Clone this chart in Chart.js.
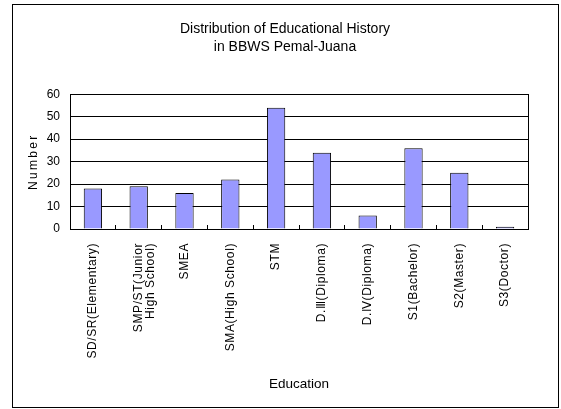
<!DOCTYPE html>
<html>
<head>
<meta charset="utf-8">
<script src="https://cdn.jsdelivr.net/npm/chart.js@4"></script>
<style>
  html, body { margin: 0; padding: 0; background: #ffffff; }
  canvas { display: block; }
</style>
</head>
<body>
<canvas id="chart" width="561" height="409"></canvas>
<script>
// Education levels (x axis categories)
const categories = [
  'SD/SR(Elementary)',
  ['SMP/ST(Junior', 'High School)'],
  'SMEA',
  'SMA(High School)',
  'STM',
  'D.\u2162(Diploma)',
  'D.\u2163(Diploma)',
  'S1(Bachelor)',
  'S2(Master)',
  'S3(Doctor)'
];

// Number of people per education level
const counts = [18, 19, 16, 22, 54, 34, 6, 36, 25, 1];

// Y axis range and tick step
const yMin = 0;
const yMax = 60;
const yStep = 10;

const titleLines = ['Distribution of Educational History', 'in BBWS Pemal-Juana'];

const plainFont = '"Liberation Sans", Arial, sans-serif';

// Wrap a scale drawing method so its text is drawn with extra letter spacing
function withSpacing(scale, method, spacing) {
  const key = '__spaced_' + method;
  if (scale[key]) return;
  const original = scale[method];
  scale[method] = function (...args) {
    const ctx = this.ctx;
    ctx.save();
    ctx.letterSpacing = spacing;
    original.apply(this, args);
    ctx.restore();
  };
  scale[key] = true;
}

// Frame around the whole figure and box around the plot area
const framePlugin = {
  id: 'frame',
  beforeDraw(chart) {
    withSpacing(chart.scales.x, 'drawLabels', '0.6px');
    withSpacing(chart.scales.y, 'drawTitle', '2.3px');
    const ctx = chart.ctx;
    ctx.save();
    ctx.fillStyle = '#ffffff';
    ctx.fillRect(0, 0, chart.width, chart.height);
    ctx.restore();
  },
  afterDraw(chart) {
    const ctx = chart.ctx;
    const a = chart.chartArea;
    const l = Math.round(a.left) + 0.5;
    const r = Math.round(a.right) + 0.5;
    const t = Math.round(a.top) + 0.5;
    const b = Math.round(a.bottom) + 0.5;
    ctx.save();
    ctx.strokeStyle = '#000000';
    ctx.lineWidth = 1;
    ctx.strokeRect(l, t, r - l, b - t);
    ctx.strokeRect(12.5, 4.5, 546, 403);
    ctx.restore();
  }
};

new Chart(document.getElementById('chart'), {
  type: 'bar',
  data: {
    labels: categories,
    datasets: [{
      label: 'Number',
      data: counts,
      backgroundColor: '#9999ff',
      borderColor: '#000000',
      borderWidth: 1,
      barPercentage: 0.4,
      categoryPercentage: 1.0
    }]
  },
  options: {
    responsive: false,
    animation: false,
    devicePixelRatio: 1,
    layout: { padding: { left: 42, right: 33, top: 0, bottom: 5 } },
    plugins: {
      legend: { display: false },
      tooltip: { enabled: false },
      title: {
        display: true,
        text: titleLines,
        color: '#000000',
        font: { family: plainFont, size: 14, weight: 'normal', lineHeight: 1.31 },
        padding: { top: 20, bottom: 37.6 }
      }
    },
    scales: {
      x: {
        afterFit(scale) { scale.height = 175; },
        grid: {
          display: true,
          drawOnChartArea: false,
          drawTicks: true,
          tickLength: -4,
          color: '#000000',
          lineWidth: 1
        },
        border: { display: true, color: '#000000', width: 1 },
        ticks: {
          autoSkip: false,
          minRotation: 90,
          maxRotation: 90,
          padding: 18,
          color: '#000000',
          font: { family: plainFont, size: 12, lineHeight: 1.0 }
        },
        title: {
          display: true,
          text: 'Education',
          color: '#000000',
          font: { family: plainFont, size: 13.5, weight: 'normal', lineHeight: 1.2 },
          padding: { top: 0, bottom: 11.5 }
        }
      },
      y: {
        min: yMin,
        max: yMax,
        afterFit(scale) { scale.width = 28; },
        grid: { color: '#000000', lineWidth: 1, drawTicks: false },
        border: { display: true, color: '#000000', width: 1 },
        ticks: {
          stepSize: yStep,
          padding: 10,
          color: '#000000',
          font: { family: plainFont, size: 12 }
        },
        title: {
          display: true,
          text: 'Number',
          color: '#000000',
          font: { family: plainFont, size: 12, weight: 'normal', lineHeight: 1.2 },
          padding: { top: -15.2, bottom: 0 }
        }
      }
    }
  },
  plugins: [framePlugin]
});
</script>
</body>
</html>
